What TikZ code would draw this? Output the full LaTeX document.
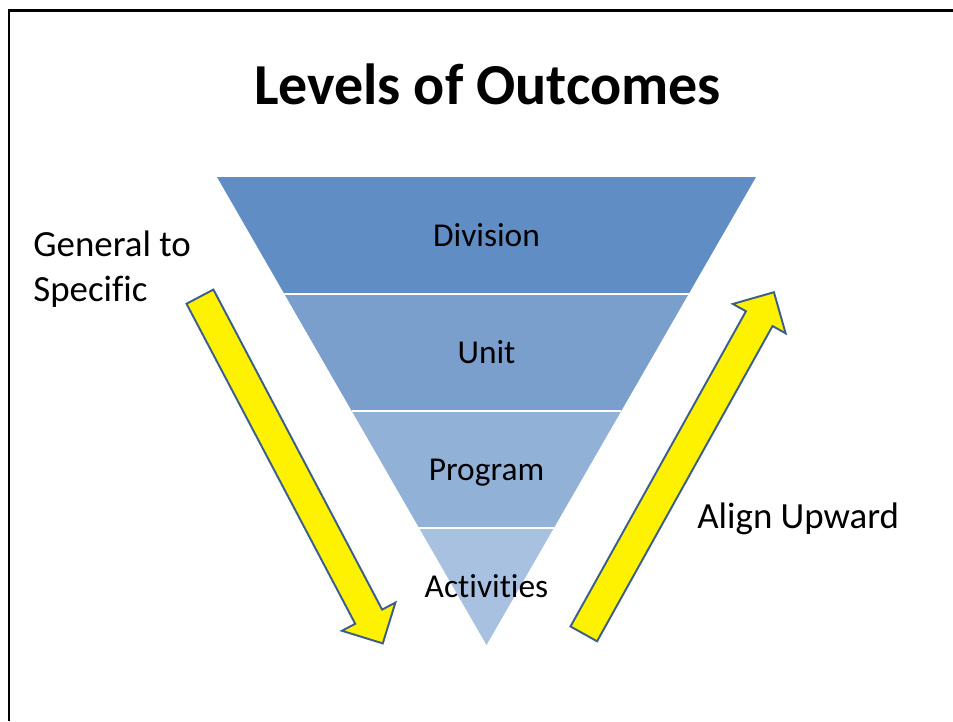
\documentclass[tikz,border=0pt]{standalone}
\usepackage{fontspec}
\setmainfont{Carlito}[Ligatures=CommonOff]
\usetikzlibrary{shapes.arrows, calc}

\definecolor{divcol}{RGB}{96,142,196}
\definecolor{unitcol}{RGB}{122,159,205}
\definecolor{progcol}{RGB}{146,177,215}
\definecolor{actcol}{RGB}{169,193,225}
\definecolor{arrowline}{RGB}{59,94,140}

\begin{document}
\begin{tikzpicture}[
    gap/.style={draw=white, line width=1.4pt},
    tiertext/.style={font=\fontsize{19}{23}\selectfont, text=black, anchor=base, yshift=-0.215cm},
    note/.style={font=\fontsize{21}{25.9}\selectfont, align=left, inner sep=0pt},
    bigarrow/.style={single arrow, draw=arrowline, fill=yellow, line width=1.1pt, inner xsep=0pt, inner ysep=0.285cm, single arrow head extend=0.3cm, single arrow tip angle=90}
]
\useasboundingbox (0,0) rectangle (19.06,-14.42);

% slide frame (left and top edges only)
\draw[line width=1.7pt] (0.18,-14.42) -- (0.18,-0.2) -- (19.06,-0.2);

\node[font=\fontsize{33}{40}\selectfont\bfseries, anchor=base] (title) at (9.75,-2.08) {Levels of Outcomes};

% funnel
\coordinate (tl) at (4.34,-3.54);
\coordinate (tr) at (15.12,-3.54);
\coordinate (tc) at (9.73,-3.54);
\coordinate (apex) at (9.73,-12.9);

\foreach \col/\txt [count=\k from 0] in {divcol/Division, unitcol/Unit, progcol/Program, actcol/Activities} {
    \pgfmathsetmacro\a{\k/4}
    \pgfmathsetmacro\b{(\k+1)/4}
    \pgfmathsetmacro\m{(\k+0.5)/4}
    \fill[\col] ($(tl)!\a!(apex)$) -- ($(tr)!\a!(apex)$) -- ($(tr)!\b!(apex)$) -- ($(tl)!\b!(apex)$) -- cycle;
    \node[tiertext] (tier\k) at ($(tc)!\m!(apex)$) {\txt};
}
% white gaps between tiers
\foreach \k in {1,2,3}
    \draw[gap] ($(tl)!{\k/4}!(apex)$) -- ($(tr)!{\k/4}!(apex)$);

% big yellow arrows
\node[bigarrow, minimum height=7.84cm, rotate=-62.2, anchor=tail] (down) at (3.99,-5.916) {};
\node[bigarrow, minimum height=7.82cm, rotate=60.9, anchor=tail] (up) at (11.666,-12.694) {};

\node[note, anchor=base west] (general) at (0.66,-6.034) {General to\\Specific};
\node[note, anchor=base west] (align) at (13.94,-10.57) {Align Upward};

\end{tikzpicture}
\end{document}
